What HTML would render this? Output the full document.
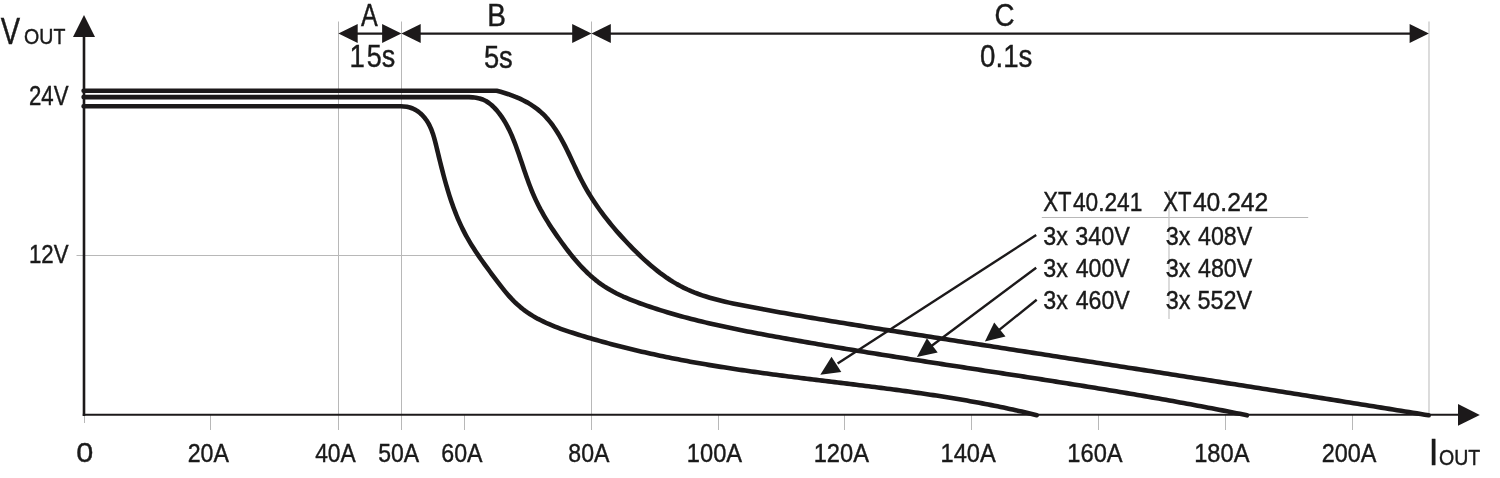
<!DOCTYPE html>
<html><head><meta charset="utf-8"><title>Output characteristic</title>
<style>
html,body{margin:0;padding:0;background:#fff;}
svg{display:block;}
text{font-family:"Liberation Sans",sans-serif;fill:#1a1a1a;}
</style></head><body>
<svg width="1500" height="478" viewBox="0 0 1500 478">
<rect width="1500" height="478" fill="#fff"/>
<line x1="338.5" y1="21.5" x2="338.5" y2="430" stroke="#b8b8b8" stroke-width="1"/>
<line x1="401.5" y1="21.5" x2="401.5" y2="430" stroke="#b8b8b8" stroke-width="1"/>
<line x1="591.5" y1="21.5" x2="591.5" y2="430" stroke="#b8b8b8" stroke-width="1"/>
<line x1="1429" y1="21.5" x2="1429" y2="415" stroke="#c4c4c4" stroke-width="1.2"/>
<line x1="76.5" y1="255.5" x2="639" y2="255.5" stroke="#b8b8b8" stroke-width="1"/>
<line x1="84.5" y1="415" x2="84.5" y2="423" stroke="#b8b8b8" stroke-width="1"/>
<line x1="210.5" y1="415" x2="210.5" y2="430" stroke="#b8b8b8" stroke-width="1"/>
<line x1="464.5" y1="415" x2="464.5" y2="430" stroke="#b8b8b8" stroke-width="1"/>
<line x1="718.5" y1="415" x2="718.5" y2="430" stroke="#b8b8b8" stroke-width="1"/>
<line x1="844.5" y1="415" x2="844.5" y2="430" stroke="#b8b8b8" stroke-width="1"/>
<line x1="971.5" y1="415" x2="971.5" y2="430" stroke="#b8b8b8" stroke-width="1"/>
<line x1="1098.5" y1="415" x2="1098.5" y2="430" stroke="#b8b8b8" stroke-width="1"/>
<line x1="1225.5" y1="415" x2="1225.5" y2="430" stroke="#b8b8b8" stroke-width="1"/>
<line x1="1352.5" y1="415" x2="1352.5" y2="430" stroke="#b8b8b8" stroke-width="1"/>
<line x1="1041.8" y1="217.5" x2="1308.2" y2="217.5" stroke="#b8b8b8" stroke-width="1"/>
<line x1="1169" y1="190" x2="1169" y2="319" stroke="#c4c4c4" stroke-width="1.2"/>
<line x1="84.0" y1="36" x2="84.0" y2="415.90000000000003" stroke="#1c191a" stroke-width="2.6"/>
<line x1="82.8" y1="414.8" x2="1459" y2="414.8" stroke="#1c191a" stroke-width="2"/>
<polygon points="84,15 73,37 95,37" fill="#1c191a"/>
<polygon points="1479.8,414.9 1458,404 1458,425.8" fill="#1c191a"/>
<line x1="348.4" y1="33.6" x2="391.4" y2="33.6" stroke="#1c191a" stroke-width="2.3"/>
<polygon points="338.4,33.6 357.7,24.1 357.7,43.1" fill="#1c191a"/>
<polygon points="401.4,33.6 382.09999999999997,24.1 382.09999999999997,43.1" fill="#1c191a"/>
<line x1="411.4" y1="33.6" x2="581.5" y2="33.6" stroke="#1c191a" stroke-width="2.3"/>
<polygon points="401.4,33.6 420.7,24.1 420.7,43.1" fill="#1c191a"/>
<polygon points="591.5,33.6 572.2,24.1 572.2,43.1" fill="#1c191a"/>
<line x1="601.5" y1="33.6" x2="1418.9" y2="33.6" stroke="#1c191a" stroke-width="2.3"/>
<polygon points="591.5,33.6 610.8,24.1 610.8,43.1" fill="#1c191a"/>
<polygon points="1428.9,33.6 1409.6000000000001,24.1 1409.6000000000001,43.1" fill="#1c191a"/>
<path d="M83.6,106.3 L369.70,106.30L372.81,106.30 L375.91,106.30 L379.02,106.30 L382.12,106.31 L385.23,106.32 L388.33,106.31 L391.44,106.30 L394.55,106.30 L397.65,106.30 L400.76,106.31 L403.84,106.46 L406.87,106.82 L409.84,107.48 L412.71,108.50 L415.46,109.88 L418.08,111.56 L420.53,113.51 L422.78,115.67 L424.83,118.02 L426.65,120.51 L428.28,123.13 L429.72,125.87 L431.00,128.71 L432.14,131.63 L433.17,134.62 L434.09,137.67 L434.95,140.76 L435.74,143.87 L436.51,147.00 L437.26,150.13 L438.02,153.24 L438.77,156.34 L439.52,159.44 L440.28,162.52 L441.05,165.59 L441.82,168.65 L442.61,171.69 L443.40,174.73 L444.21,177.75 L445.03,180.76 L445.87,183.75 L446.73,186.73 L447.60,189.70 L448.50,192.65 L449.42,195.59 L450.37,198.52 L451.35,201.43 L452.35,204.32 L453.38,207.20 L454.45,210.06 L455.55,212.91 L456.68,215.74 L457.85,218.55 L459.07,221.34 L460.32,224.12 L461.61,226.88 L462.95,229.63 L464.34,232.35 L465.77,235.06 L467.25,237.75 L468.79,240.42 L470.36,243.07 L471.98,245.70 L473.64,248.33 L475.33,250.94 L477.06,253.53 L478.82,256.12 L480.60,258.70 L482.41,261.27 L484.25,263.83 L486.10,266.39 L487.96,268.95 L489.84,271.50 L491.72,274.05 L493.62,276.59 L495.52,279.14 L497.42,281.68 L499.35,284.21 L501.29,286.71 L503.25,289.19 L505.24,291.62 L507.26,294.02 L509.33,296.37 L511.43,298.66 L513.58,300.89 L515.78,303.04 L518.03,305.12 L520.35,307.11 L522.73,309.02 L525.16,310.85 L527.65,312.60 L530.19,314.27 L532.77,315.88 L535.41,317.41 L538.08,318.89 L540.80,320.30 L543.56,321.66 L546.35,322.96 L549.17,324.21 L552.02,325.41 L554.90,326.57 L557.80,327.69 L560.72,328.78 L563.66,329.83 L566.62,330.85 L569.59,331.84 L572.57,332.81 L575.56,333.77 L578.55,334.70 L581.54,335.62 L584.53,336.54 L587.53,337.43 L590.53,338.32 L593.53,339.19 L596.53,340.06 L599.53,340.91 L602.53,341.75 L605.54,342.57 L608.54,343.39 L611.55,344.20 L614.56,344.99 L617.57,345.77 L620.58,346.54 L623.60,347.31 L626.61,348.06 L629.63,348.80 L632.65,349.53 L635.67,350.25 L638.69,350.96 L641.71,351.66 L644.74,352.35 L647.76,353.03 L650.79,353.71 L653.82,354.37 L656.85,355.02 L659.88,355.67 L662.91,356.30 L665.95,356.93 L668.98,357.55 L672.02,358.16 L675.06,358.76 L678.10,359.35 L681.14,359.94 L684.18,360.51 L687.23,361.08 L690.28,361.64 L693.32,362.20 L696.37,362.74 L699.42,363.28 L702.47,363.82 L705.53,364.34 L708.58,364.86 L711.64,365.37 L714.69,365.87 L717.75,366.37 L720.81,366.86 L723.88,367.35 L726.94,367.83 L730.00,368.30 L733.07,368.77 L736.13,369.23 L739.20,369.69 L742.27,370.14 L745.34,370.59 L748.41,371.03 L751.48,371.47 L754.56,371.90 L757.63,372.33 L760.71,372.76 L763.78,373.18 L766.86,373.59 L769.94,374.01 L773.02,374.42 L776.09,374.82 L779.17,375.22 L782.26,375.63 L785.34,376.02 L788.42,376.42 L791.50,376.81 L794.58,377.20 L797.67,377.59 L800.75,377.97 L803.83,378.36 L806.92,378.74 L810.00,379.12 L813.09,379.50 L816.18,379.88 L819.26,380.26 L822.35,380.64 L825.43,381.01 L828.52,381.39 L831.61,381.76 L834.69,382.14 L837.78,382.51 L840.87,382.89 L843.95,383.27 L847.04,383.64 L850.13,384.02 L853.21,384.40 L856.30,384.78 L859.39,385.16 L862.47,385.54 L865.56,385.93 L868.64,386.31 L871.73,386.70 L874.81,387.09 L877.89,387.48 L880.98,387.88 L884.06,388.28 L887.14,388.68 L890.23,389.08 L893.31,389.48 L896.39,389.89 L899.47,390.31 L902.55,390.72 L905.63,391.14 L908.70,391.57 L911.78,391.99 L914.86,392.43 L917.93,392.86 L921.01,393.31 L924.08,393.75 L927.15,394.20 L930.22,394.66 L933.29,395.12 L936.36,395.59 L939.43,396.06 L942.50,396.54 L945.56,397.03 L948.63,397.52 L951.69,398.02 L954.75,398.52 L957.81,399.03 L960.87,399.55 L963.93,400.07 L966.99,400.60 L970.04,401.14 L973.10,401.69 L976.15,402.24 L979.20,402.80 L982.25,403.37 L985.29,403.95 L988.34,404.54 L991.38,405.13 L994.42,405.74 L997.46,406.35 L1000.50,406.97 L1003.54,407.60 L1006.57,408.24 L1009.60,408.89 L1012.63,409.55 L1015.66,410.22 L1018.69,410.90 L1021.71,411.59 L1024.73,412.29 L1027.75,413.00 L1030.77,413.72 L1033.79,414.45 L1036.80,415.20" fill="none" stroke="#1c191a" stroke-width="4.6" stroke-linecap="round" stroke-linejoin="round"/>
<path d="M83.6,97.1 L436.70,97.10L440.29,97.10 L443.89,97.10 L447.48,97.11 L451.07,97.12 L454.66,97.11 L458.26,97.10 L461.85,97.10 L465.45,97.10 L469.03,97.14 L472.59,97.34 L476.08,97.75 L479.48,98.46 L482.77,99.53 L485.92,101.05 L488.92,102.99 L491.77,105.28 L494.45,107.86 L496.99,110.66 L499.35,113.61 L501.56,116.64 L503.61,119.74 L505.51,122.89 L507.28,126.09 L508.94,129.34 L510.49,132.62 L511.95,135.94 L513.33,139.28 L514.65,142.65 L515.92,146.03 L517.15,149.43 L518.35,152.84 L519.53,156.25 L520.69,159.67 L521.85,163.09 L523.00,166.51 L524.15,169.92 L525.31,173.32 L526.49,176.71 L527.69,180.09 L528.92,183.45 L530.19,186.79 L531.49,190.10 L532.84,193.39 L534.25,196.65 L535.72,199.88 L537.25,203.07 L538.84,206.23 L540.48,209.37 L542.19,212.47 L543.95,215.55 L545.75,218.61 L547.61,221.64 L549.51,224.66 L551.46,227.66 L553.44,230.64 L555.46,233.62 L557.52,236.58 L559.61,239.53 L561.73,242.48 L563.89,245.42 L566.07,248.34 L568.30,251.24 L570.56,254.11 L572.85,256.95 L575.20,259.75 L577.58,262.51 L580.01,265.22 L582.49,267.87 L585.02,270.46 L587.60,272.98 L590.24,275.43 L592.93,277.80 L595.69,280.08 L598.50,282.28 L601.38,284.37 L604.32,286.37 L607.32,288.27 L610.38,290.08 L613.50,291.81 L616.66,293.45 L619.86,295.02 L623.10,296.53 L626.38,297.97 L629.69,299.35 L633.03,300.68 L636.39,301.97 L639.76,303.22 L643.16,304.43 L646.56,305.61 L649.96,306.77 L653.38,307.90 L656.80,309.01 L660.23,310.10 L663.66,311.16 L667.10,312.20 L670.54,313.22 L673.99,314.22 L677.45,315.20 L680.91,316.16 L684.37,317.10 L687.84,318.02 L691.32,318.92 L694.80,319.81 L698.28,320.68 L701.77,321.53 L705.26,322.37 L708.75,323.19 L712.25,324.00 L715.76,324.79 L719.26,325.57 L722.77,326.34 L726.28,327.09 L729.80,327.83 L733.32,328.57 L736.84,329.29 L740.36,330.00 L743.89,330.70 L747.41,331.40 L750.94,332.08 L754.47,332.76 L758.00,333.43 L761.54,334.10 L765.07,334.76 L768.61,335.41 L772.14,336.06 L775.68,336.71 L779.22,337.35 L782.75,337.99 L786.29,338.62 L789.83,339.25 L793.37,339.88 L796.91,340.51 L800.45,341.13 L803.99,341.75 L807.53,342.36 L811.07,342.98 L814.62,343.59 L818.16,344.19 L821.70,344.80 L825.24,345.40 L828.79,346.00 L832.33,346.59 L835.88,347.19 L839.42,347.78 L842.96,348.37 L846.51,348.95 L850.06,349.54 L853.60,350.12 L857.15,350.70 L860.69,351.28 L864.24,351.85 L867.79,352.43 L871.34,353.00 L874.88,353.57 L878.43,354.14 L881.98,354.70 L885.53,355.27 L889.08,355.83 L892.62,356.39 L896.17,356.95 L899.72,357.51 L903.27,358.07 L906.82,358.62 L910.37,359.18 L913.92,359.73 L917.47,360.28 L921.02,360.84 L924.57,361.39 L928.12,361.94 L931.67,362.48 L935.22,363.03 L938.77,363.58 L942.32,364.13 L945.87,364.67 L949.42,365.22 L952.98,365.76 L956.53,366.31 L960.08,366.85 L963.63,367.39 L967.18,367.94 L970.73,368.48 L974.28,369.02 L977.83,369.56 L981.38,370.11 L984.94,370.65 L988.49,371.19 L992.04,371.74 L995.59,372.28 L999.14,372.82 L1002.69,373.37 L1006.24,373.91 L1009.79,374.46 L1013.34,375.00 L1016.89,375.55 L1020.44,376.10 L1023.99,376.64 L1027.54,377.19 L1031.09,377.74 L1034.64,378.29 L1038.19,378.84 L1041.74,379.39 L1045.29,379.95 L1048.84,380.50 L1052.39,381.06 L1055.94,381.61 L1059.49,382.17 L1063.03,382.73 L1066.58,383.29 L1070.13,383.86 L1073.68,384.42 L1077.22,384.99 L1080.77,385.55 L1084.32,386.12 L1087.86,386.69 L1091.41,387.27 L1094.96,387.84 L1098.50,388.42 L1102.05,389.00 L1105.59,389.58 L1109.14,390.16 L1112.68,390.75 L1116.22,391.34 L1119.77,391.93 L1123.31,392.52 L1126.85,393.12 L1130.39,393.71 L1133.94,394.31 L1137.48,394.92 L1141.02,395.52 L1144.56,396.13 L1148.10,396.74 L1151.64,397.36 L1155.18,397.98 L1158.72,398.60 L1162.25,399.22 L1165.79,399.85 L1169.33,400.48 L1172.86,401.11 L1176.40,401.75 L1179.94,402.39 L1183.47,403.04 L1187.01,403.68 L1190.54,404.34 L1194.07,404.99 L1197.61,405.65 L1201.14,406.31 L1204.67,406.98 L1208.20,407.65 L1211.73,408.32 L1215.26,409.00 L1218.79,409.68 L1222.32,410.37 L1225.85,411.06 L1229.37,411.76 L1232.90,412.46 L1236.43,413.16 L1239.95,413.87 L1243.48,414.58 L1247.00,415.30" fill="none" stroke="#1c191a" stroke-width="4.6" stroke-linecap="round" stroke-linejoin="round"/>
<path d="M83.6,90.8 L496.70,90.80L500.64,91.81 L504.56,92.94 L508.47,94.19 L512.33,95.56 L516.14,97.06 L519.87,98.69 L523.53,100.45 L527.09,102.35 L530.53,104.39 L533.85,106.56 L537.03,108.89 L540.05,111.36 L542.91,113.98 L545.63,116.73 L548.20,119.62 L550.65,122.62 L552.98,125.73 L555.21,128.94 L557.33,132.23 L559.37,135.61 L561.33,139.06 L563.23,142.57 L565.07,146.14 L566.86,149.74 L568.63,153.38 L570.36,157.05 L572.08,160.72 L573.80,164.40 L575.53,168.08 L577.27,171.75 L579.04,175.38 L580.85,178.99 L582.71,182.56 L584.62,186.07 L586.58,189.54 L588.60,192.97 L590.68,196.35 L592.80,199.69 L594.98,202.99 L597.20,206.25 L599.47,209.47 L601.80,212.66 L604.16,215.81 L606.58,218.93 L609.04,222.03 L611.54,225.09 L614.09,228.13 L616.68,231.14 L619.31,234.13 L621.98,237.10 L624.69,240.04 L627.44,242.97 L630.23,245.89 L633.06,248.78 L635.92,251.65 L638.82,254.50 L641.76,257.30 L644.74,260.07 L647.76,262.79 L650.82,265.46 L653.93,268.06 L657.08,270.60 L660.27,273.07 L663.51,275.46 L666.79,277.77 L670.12,279.99 L673.50,282.11 L676.92,284.13 L680.40,286.04 L683.92,287.84 L687.49,289.52 L691.10,291.11 L694.76,292.60 L698.45,294.00 L702.18,295.31 L705.95,296.55 L709.74,297.71 L713.56,298.80 L717.41,299.84 L721.28,300.82 L725.17,301.74 L729.07,302.63 L732.99,303.47 L736.93,304.29 L740.87,305.08 L744.81,305.85 L748.76,306.60 L752.72,307.35 L756.67,308.09 L760.62,308.82 L764.57,309.55 L768.52,310.27 L772.47,310.99 L776.42,311.70 L780.37,312.40 L784.32,313.10 L788.27,313.80 L792.22,314.49 L796.17,315.17 L800.12,315.85 L804.07,316.53 L808.02,317.20 L811.97,317.87 L815.92,318.54 L819.87,319.20 L823.82,319.85 L827.77,320.51 L831.72,321.16 L835.67,321.81 L839.62,322.45 L843.57,323.09 L847.52,323.73 L851.47,324.37 L855.42,325.00 L859.37,325.64 L863.32,326.27 L867.27,326.90 L871.22,327.52 L875.17,328.15 L879.12,328.77 L883.07,329.40 L887.02,330.02 L890.97,330.64 L894.92,331.26 L898.87,331.88 L902.82,332.50 L906.77,333.12 L910.73,333.74 L914.68,334.36 L918.63,334.98 L922.58,335.60 L926.53,336.22 L930.49,336.84 L934.44,337.46 L938.39,338.08 L942.34,338.69 L946.30,339.31 L950.25,339.93 L954.20,340.55 L958.16,341.16 L962.11,341.78 L966.06,342.40 L970.02,343.02 L973.97,343.63 L977.92,344.25 L981.88,344.87 L985.83,345.48 L989.79,346.10 L993.74,346.72 L997.69,347.33 L1001.65,347.95 L1005.60,348.56 L1009.56,349.18 L1013.51,349.79 L1017.47,350.41 L1021.42,351.03 L1025.38,351.64 L1029.33,352.26 L1033.29,352.87 L1037.24,353.49 L1041.20,354.10 L1045.15,354.72 L1049.11,355.33 L1053.06,355.95 L1057.02,356.56 L1060.97,357.18 L1064.93,357.80 L1068.89,358.41 L1072.84,359.03 L1076.80,359.64 L1080.75,360.26 L1084.71,360.87 L1088.66,361.49 L1092.62,362.10 L1096.58,362.72 L1100.53,363.33 L1104.49,363.95 L1108.44,364.57 L1112.40,365.18 L1116.36,365.80 L1120.31,366.41 L1124.27,367.03 L1128.22,367.65 L1132.18,368.26 L1136.14,368.88 L1140.09,369.50 L1144.05,370.11 L1148.00,370.73 L1151.96,371.35 L1155.92,371.96 L1159.87,372.58 L1163.83,373.20 L1167.78,373.82 L1171.74,374.43 L1175.70,375.05 L1179.65,375.67 L1183.61,376.29 L1187.56,376.91 L1191.52,377.53 L1195.47,378.15 L1199.43,378.77 L1203.39,379.39 L1207.34,380.01 L1211.30,380.63 L1215.25,381.25 L1219.21,381.87 L1223.16,382.49 L1227.12,383.11 L1231.07,383.73 L1235.03,384.35 L1238.98,384.97 L1242.94,385.60 L1246.89,386.22 L1250.85,386.84 L1254.80,387.46 L1258.76,388.09 L1262.71,388.71 L1266.67,389.34 L1270.62,389.96 L1274.58,390.59 L1278.53,391.21 L1282.49,391.84 L1286.44,392.46 L1290.39,393.09 L1294.35,393.72 L1298.30,394.34 L1302.26,394.97 L1306.21,395.60 L1310.16,396.23 L1314.12,396.86 L1318.07,397.48 L1322.02,398.11 L1325.98,398.74 L1329.93,399.38 L1333.88,400.01 L1337.83,400.64 L1341.79,401.27 L1345.74,401.90 L1349.69,402.53 L1353.64,403.17 L1357.59,403.80 L1361.55,404.44 L1365.50,405.07 L1369.45,405.71 L1373.40,406.34 L1377.35,406.98 L1381.30,407.61 L1385.25,408.25 L1389.20,408.89 L1393.15,409.53 L1397.10,410.17 L1401.05,410.81 L1405.00,411.45 L1408.95,412.09 L1412.90,412.73 L1416.85,413.37 L1420.80,414.01 L1424.75,414.66 L1428.70,415.30" fill="none" stroke="#1c191a" stroke-width="4.6" stroke-linecap="round" stroke-linejoin="round"/>
<line x1="1036.2" y1="235.1" x2="837.6" y2="363.6" stroke="#1c191a" stroke-width="2.4"/>
<polygon points="820.3,374.8 831.5,356.8 841.3,371.9" fill="#1a1a1a"/>
<line x1="1036.2" y1="267.7" x2="926.4" y2="349.8" stroke="#1c191a" stroke-width="2.4"/>
<polygon points="916.9,356.9 926.9,338.2 937.7,352.6" fill="#1a1a1a"/>
<line x1="1036.7" y1="299.8" x2="989.0" y2="338.1" stroke="#1c191a" stroke-width="2.4"/>
<polygon points="984.9,341.4 994.2,322.4 1005.5,336.4" fill="#1a1a1a"/>
<text transform="matrix(0.2901 0 0 0.3623 0.85 44.00)" font-size="100" stroke="#1a1a1a" stroke-width="0.4" vector-effect="non-scaling-stroke">V</text>
<text transform="matrix(0.1956 0 0 0.2239 24.12 43.98)" font-size="100" stroke="#1a1a1a" stroke-width="0.4" vector-effect="non-scaling-stroke">OUT</text>
<text transform="matrix(0.2221 0 0 0.2700 28.99 105.20)" font-size="100" stroke="#1a1a1a" stroke-width="0.4" vector-effect="non-scaling-stroke">24V</text>
<text transform="matrix(0.2224 0 0 0.2600 28.93 263.40)" font-size="100" stroke="#1a1a1a" stroke-width="0.4" vector-effect="non-scaling-stroke">12V</text>
<text transform="matrix(0.2511 0 0 0.3087 361.00 26.00)" font-size="100" stroke="#1a1a1a" stroke-width="0.4" vector-effect="non-scaling-stroke">A</text>
<text transform="matrix(0.2759 0 0 0.3203 349.53 67.10)" font-size="100" stroke="#1a1a1a" stroke-width="0.4" vector-effect="non-scaling-stroke">1</text>
<text transform="matrix(0.2694 0 0 0.3186 366.72 66.98)" font-size="100" stroke="#1a1a1a" stroke-width="0.4" vector-effect="non-scaling-stroke">5s</text>
<text transform="matrix(0.2804 0 0 0.3072 487.16 26.20)" font-size="100" stroke="#1a1a1a" stroke-width="0.4" vector-effect="non-scaling-stroke">B</text>
<text transform="matrix(0.2735 0 0 0.3200 483.91 68.28)" font-size="100" stroke="#1a1a1a" stroke-width="0.4" vector-effect="non-scaling-stroke">5s</text>
<text transform="matrix(0.2772 0 0 0.3085 994.61 26.29)" font-size="100" stroke="#1a1a1a" stroke-width="0.4" vector-effect="non-scaling-stroke">C</text>
<text transform="matrix(0.2766 0 0 0.3225 980.09 67.18)" font-size="100" stroke="#1a1a1a" stroke-width="0.4" vector-effect="non-scaling-stroke">0.1s</text>
<text transform="matrix(0.3063 0 0 0.2718 76.28 462.43)" font-size="100" stroke="#1a1a1a" stroke-width="0.4" vector-effect="non-scaling-stroke">0</text>
<text transform="matrix(0.2319 0 0 0.2648 187.67 462.14)" font-size="100" stroke="#1a1a1a" stroke-width="0.4" vector-effect="non-scaling-stroke">20A</text>
<text transform="matrix(0.2279 0 0 0.2648 315.20 462.14)" font-size="100" stroke="#1a1a1a" stroke-width="0.4" vector-effect="non-scaling-stroke">40A</text>
<text transform="matrix(0.2305 0 0 0.2648 378.15 462.14)" font-size="100" stroke="#1a1a1a" stroke-width="0.4" vector-effect="non-scaling-stroke">50A</text>
<text transform="matrix(0.2319 0 0 0.2648 441.33 462.14)" font-size="100" stroke="#1a1a1a" stroke-width="0.4" vector-effect="non-scaling-stroke">60A</text>
<text transform="matrix(0.2312 0 0 0.2648 568.28 462.14)" font-size="100" stroke="#1a1a1a" stroke-width="0.4" vector-effect="non-scaling-stroke">80A</text>
<text transform="matrix(0.2367 0 0 0.2648 686.87 462.14)" font-size="100" stroke="#1a1a1a" stroke-width="0.4" vector-effect="non-scaling-stroke">100A</text>
<text transform="matrix(0.2367 0 0 0.2648 813.70 462.14)" font-size="100" stroke="#1a1a1a" stroke-width="0.4" vector-effect="non-scaling-stroke">120A</text>
<text transform="matrix(0.2367 0 0 0.2648 940.53 462.14)" font-size="100" stroke="#1a1a1a" stroke-width="0.4" vector-effect="non-scaling-stroke">140A</text>
<text transform="matrix(0.2367 0 0 0.2648 1067.36 462.14)" font-size="100" stroke="#1a1a1a" stroke-width="0.4" vector-effect="non-scaling-stroke">160A</text>
<text transform="matrix(0.2367 0 0 0.2648 1194.19 462.14)" font-size="100" stroke="#1a1a1a" stroke-width="0.4" vector-effect="non-scaling-stroke">180A</text>
<text transform="matrix(0.2341 0 0 0.2648 1321.63 462.14)" font-size="100" stroke="#1a1a1a" stroke-width="0.4" vector-effect="non-scaling-stroke">200A</text>
<text transform="matrix(0.3474 0 0 0.3652 1428.77 465.10)" font-size="100" stroke="#1a1a1a" stroke-width="0.4" vector-effect="non-scaling-stroke">I</text>
<text transform="matrix(0.1956 0 0 0.2225 1439.02 465.08)" font-size="100" stroke="#1a1a1a" stroke-width="0.4" vector-effect="non-scaling-stroke">OUT</text>
<text transform="matrix(0.2211 0 0 0.2681 1043.25 211.00)" font-size="100" stroke="#1a1a1a" stroke-width="0.4" vector-effect="non-scaling-stroke">XT</text>
<text transform="matrix(0.2270 0 0 0.2606 1072.95 210.74)" font-size="100" stroke="#1a1a1a" stroke-width="0.4" vector-effect="non-scaling-stroke">40.241</text>
<text transform="matrix(0.2211 0 0 0.2681 1163.25 211.00)" font-size="100" stroke="#1a1a1a" stroke-width="0.4" vector-effect="non-scaling-stroke">XT</text>
<text transform="matrix(0.2462 0 0 0.2606 1192.91 210.74)" font-size="100" stroke="#1a1a1a" stroke-width="0.4" vector-effect="non-scaling-stroke">40.242</text>
<text transform="matrix(0.2328 0 0 0.2620 1043.37 245.24)" font-size="100" stroke="#1a1a1a" stroke-width="0.4" vector-effect="non-scaling-stroke">3x</text>
<text transform="matrix(0.2336 0 0 0.2620 1075.17 245.24)" font-size="100" stroke="#1a1a1a" stroke-width="0.4" vector-effect="non-scaling-stroke">340V</text>
<text transform="matrix(0.2338 0 0 0.2620 1165.76 245.24)" font-size="100" stroke="#1a1a1a" stroke-width="0.4" vector-effect="non-scaling-stroke">3x</text>
<text transform="matrix(0.2320 0 0 0.2620 1198.04 245.24)" font-size="100" stroke="#1a1a1a" stroke-width="0.4" vector-effect="non-scaling-stroke">408V</text>
<text transform="matrix(0.2328 0 0 0.2620 1043.37 276.94)" font-size="100" stroke="#1a1a1a" stroke-width="0.4" vector-effect="non-scaling-stroke">3x</text>
<text transform="matrix(0.2316 0 0 0.2620 1075.64 276.94)" font-size="100" stroke="#1a1a1a" stroke-width="0.4" vector-effect="non-scaling-stroke">400V</text>
<text transform="matrix(0.2338 0 0 0.2620 1165.76 276.94)" font-size="100" stroke="#1a1a1a" stroke-width="0.4" vector-effect="non-scaling-stroke">3x</text>
<text transform="matrix(0.2320 0 0 0.2620 1198.04 276.94)" font-size="100" stroke="#1a1a1a" stroke-width="0.4" vector-effect="non-scaling-stroke">480V</text>
<text transform="matrix(0.2328 0 0 0.2620 1043.37 308.74)" font-size="100" stroke="#1a1a1a" stroke-width="0.4" vector-effect="non-scaling-stroke">3x</text>
<text transform="matrix(0.2316 0 0 0.2620 1075.64 308.74)" font-size="100" stroke="#1a1a1a" stroke-width="0.4" vector-effect="non-scaling-stroke">460V</text>
<text transform="matrix(0.2338 0 0 0.2620 1165.76 308.74)" font-size="100" stroke="#1a1a1a" stroke-width="0.4" vector-effect="non-scaling-stroke">3x</text>
<text transform="matrix(0.2341 0 0 0.2620 1197.56 308.74)" font-size="100" stroke="#1a1a1a" stroke-width="0.4" vector-effect="non-scaling-stroke">552V</text>
</svg>
</body></html>
